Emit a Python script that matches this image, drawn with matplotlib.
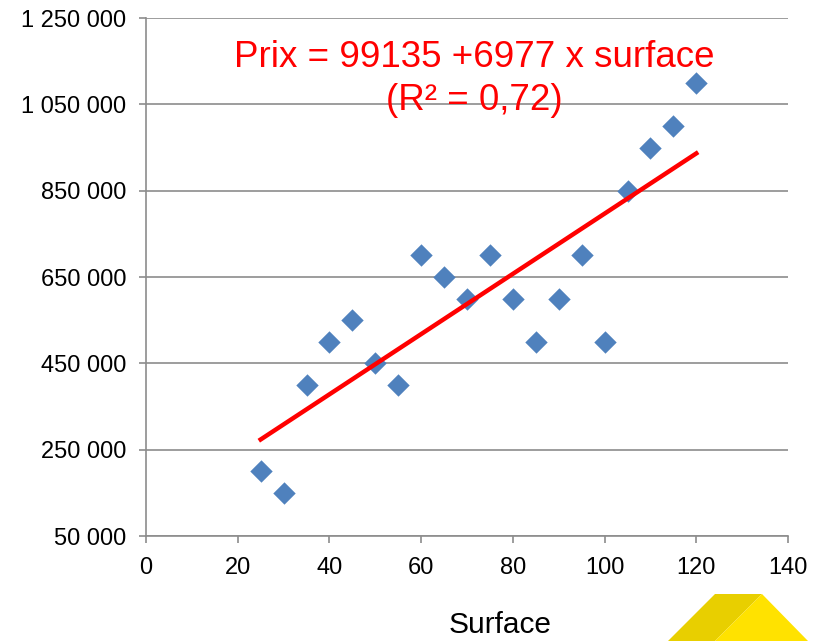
import matplotlib
matplotlib.use("Agg")
from matplotlib import pyplot as plt
from matplotlib.patches import Polygon
import numpy as np

plt.rcParams['font.family'] = ['Liberation Sans', 'DejaVu Sans']

# data
surface = [25, 30, 35, 40, 45, 50, 55, 60, 65, 70, 75, 80, 85, 90, 95, 100, 105, 110, 115, 120]
prix = [200000, 150000, 400000, 500000, 550000, 450000, 400000, 700000, 650000, 600000,
        700000, 600000, 500000, 600000, 700000, 500000, 850000, 950000, 1000000, 1100000]
intercept = 99135
slope = 6977
yticks = [50000, 250000, 450000, 650000, 850000, 1050000, 1250000]
xticks = [0, 20, 40, 60, 80, 100, 120, 140]

fig = plt.figure(figsize=(8.23, 6.41), dpi=100)
ax = fig.add_axes([0.1774, 0.1638, 0.7801, 0.8081])

grey = "#8c8c8c"
for y in yticks:
    ax.axhline(y, color=grey, lw=1.2, zorder=0)

ax.scatter(surface, prix, marker="D", s=130, color="#4f81bd", zorder=3, linewidths=0)

xl = np.array([surface[0], surface[-1]])
ax.plot(xl, intercept + slope * xl, color="red", lw=3.2, zorder=4)

ax.set_xlim(0, 140)
ax.set_ylim(50000, 1250000)
ax.set_xticks(xticks)
ax.set_yticks(yticks)
ax.set_yticklabels(["{:,}".format(v).replace(",", " ") for v in yticks])
ax.tick_params(labelsize=17, color=grey, length=5, width=1.2)
ax.tick_params(axis="y", pad=9)
ax.tick_params(axis="x", pad=10)
for s in ["top", "right"]:
    ax.spines[s].set_visible(False)
for s in ["left", "bottom"]:
    ax.spines[s].set_color(grey)
    ax.spines[s].set_linewidth(1.2)

# equation of the regression line
W, H = 823, 641
cx = (474.5 - 146) / 642
ax.text(cx, (536 - 67) / 518, "Prix = 99135 +6977 x surface", transform=ax.transAxes,
        ha="center", va="baseline", color="red", fontsize=26.5)
ax.text(cx, (536 - 110) / 518, "(R² = 0,72)", transform=ax.transAxes,
        ha="center", va="baseline", color="red", fontsize=26.5)

fig.text(500.5 / W, 1 - 633 / H, "Surface", ha="center", va="baseline", fontsize=21.5)

# yellow logo in the corner
left = Polygon([(668 / W, 0), (715 / W, 47 / H), (762 / W, 47 / H), (715 / W, 0)],
               closed=True, transform=fig.transFigure, color="#e8cf00", lw=0)
right = Polygon([(715 / W, 0), (762 / W, 47 / H), (808 / W, 0)],
                closed=True, transform=fig.transFigure, color="#ffe200", lw=0)
fig.patches.extend([left, right])

fig.savefig("out.png", dpi=100)
